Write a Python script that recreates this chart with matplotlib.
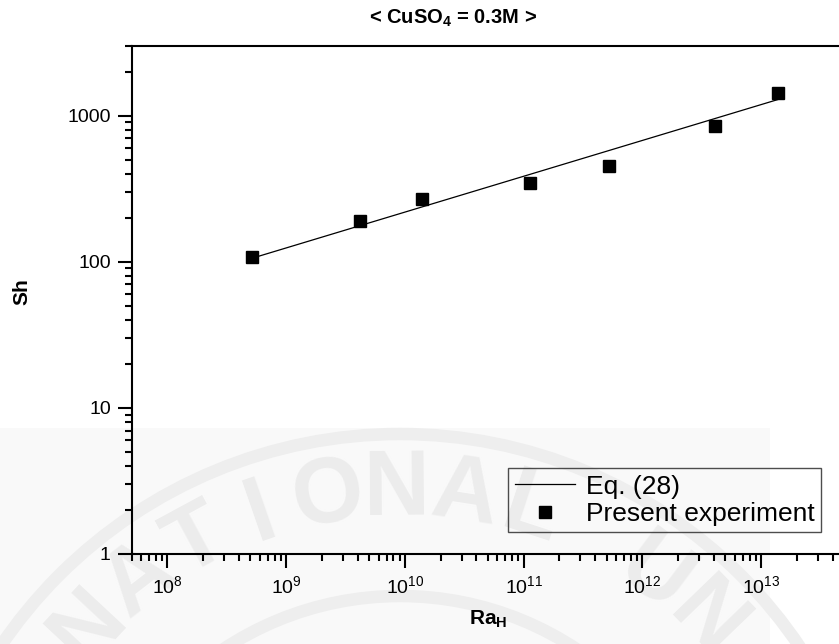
import numpy as np
import matplotlib
matplotlib.use("Agg")
import matplotlib.pyplot as plt
from matplotlib.ticker import LogLocator, NullFormatter
from matplotlib.patches import Rectangle, Circle

plt.rcParams['font.family'] = ['Liberation Sans', 'DejaVu Sans']
plt.rcParams['mathtext.fontset'] = 'custom'
plt.rcParams['mathtext.rm'] = 'Liberation Sans'
plt.rcParams['mathtext.it'] = 'Liberation Sans:italic'
plt.rcParams['mathtext.bf'] = 'Liberation Sans:bold'

# measured Sherwood numbers vs Rayleigh number
ra_exp = [5.2e8, 4.2e9, 1.4e10, 1.12e11, 5.2e11, 4.1e12, 1.38e13]
sh_exp = [108, 189, 268, 346, 455, 855, 1430]

# correlation line, Eq. (28)
ra_eq = [5.2e8, 1.38e13]
sh_eq = [106, 1290]

ytick_vals = [1, 10, 100, 1000]
ytick_labels = ['1', '10', '100', '1000']

W, H = 839, 644
fig = plt.figure(figsize=(W / 100, H / 100), dpi=100)

# faint library stamp in the background
bg = fig.add_axes([0, 0, 1, 1], zorder=0)
bg.set_xlim(0, W)
bg.set_ylim(H, 0)
bg.axis('off')
bg.add_patch(Rectangle((0, 428), 770, 216, color='#f9f9f9', lw=0))
cx, cy = 400, 916
bg.add_patch(Circle((cx, cy), 320, fill=False, ec='#eeeeee', lw=9))
bg.add_patch(Circle((cx, cy), 482, fill=False, ec='#eeeeee', lw=9))
stamp = "NATIONAL UN"
for i, ch in enumerate(stamp):
    ang = 137 - 9.3 * i
    a = np.radians(ang)
    bg.text(cx + 425 * np.cos(a), cy - 425 * np.sin(a), ch, rotation=ang - 90,
            ha='center', va='center', fontsize=66, fontweight='bold', color='#ececec')

# main log-log axes (right side runs past the page edge)
left, right, top, bottom = 131.7, 880, 46, 554
ax = fig.add_axes([left / W, 1 - bottom / H, (right - left) / W, (bottom - top) / H], zorder=1)
ax.patch.set_facecolor('none')

line, = ax.plot(ra_eq, sh_eq, color='black', lw=0.9, label='Eq. (28)')
pts, = ax.plot(ra_exp, sh_exp, 's', color='black', ms=8.2, ls='none', label='Present experiment')

ax.set_xscale('log')
ax.set_yscale('log')
ax.set_xlim(5e7, 1e14)
ax.set_ylim(1, 3000)

ax.xaxis.set_major_locator(LogLocator(base=10, numticks=20))
ax.xaxis.set_minor_locator(LogLocator(base=10, subs=np.arange(2, 10), numticks=20))
ax.xaxis.set_minor_formatter(NullFormatter())
ax.set_yticks(ytick_vals, labels=ytick_labels)
ax.yaxis.set_minor_locator(LogLocator(base=10, subs=np.arange(2, 10), numticks=20))
ax.yaxis.set_minor_formatter(NullFormatter())

ax.tick_params(which='both', direction='out', width=1.5, top=False, right=False, labelsize=14)
ax.tick_params(which='major', length=10, pad=5)
ax.tick_params(which='minor', length=5)
for sp in ax.spines.values():
    sp.set_linewidth(1.5)

leg = ax.legend(handles=[line, pts], loc='upper left',
                bbox_to_anchor=(508 / W, 1 - 468 / H), bbox_transform=fig.transFigure,
                borderaxespad=0, fontsize=19, frameon=True, fancybox=False,
                handlelength=2.3, handletextpad=0.4, borderpad=0.25, labelspacing=0.12)
leg.get_frame().set_edgecolor('#222222')
leg.get_frame().set_linewidth(1.0)
leg.get_frame().set_facecolor('none')

fig.text(453 / W, 1 - 18 / H, '< CuSO$_\\mathbf{4}$ = 0.3M >', ha='center', va='center',
         fontsize=14.5, fontweight='bold')
fig.text(488 / W, 1 - 619 / H, 'Ra$_\\mathbf{H}$', ha='center', va='center',
         fontsize=15, fontweight='bold')
fig.text(22 / W, 1 - 292 / H, 'Sh', ha='center', va='center', rotation=90,
         fontsize=15, fontweight='bold')

fig.savefig('out.png', dpi=100)
